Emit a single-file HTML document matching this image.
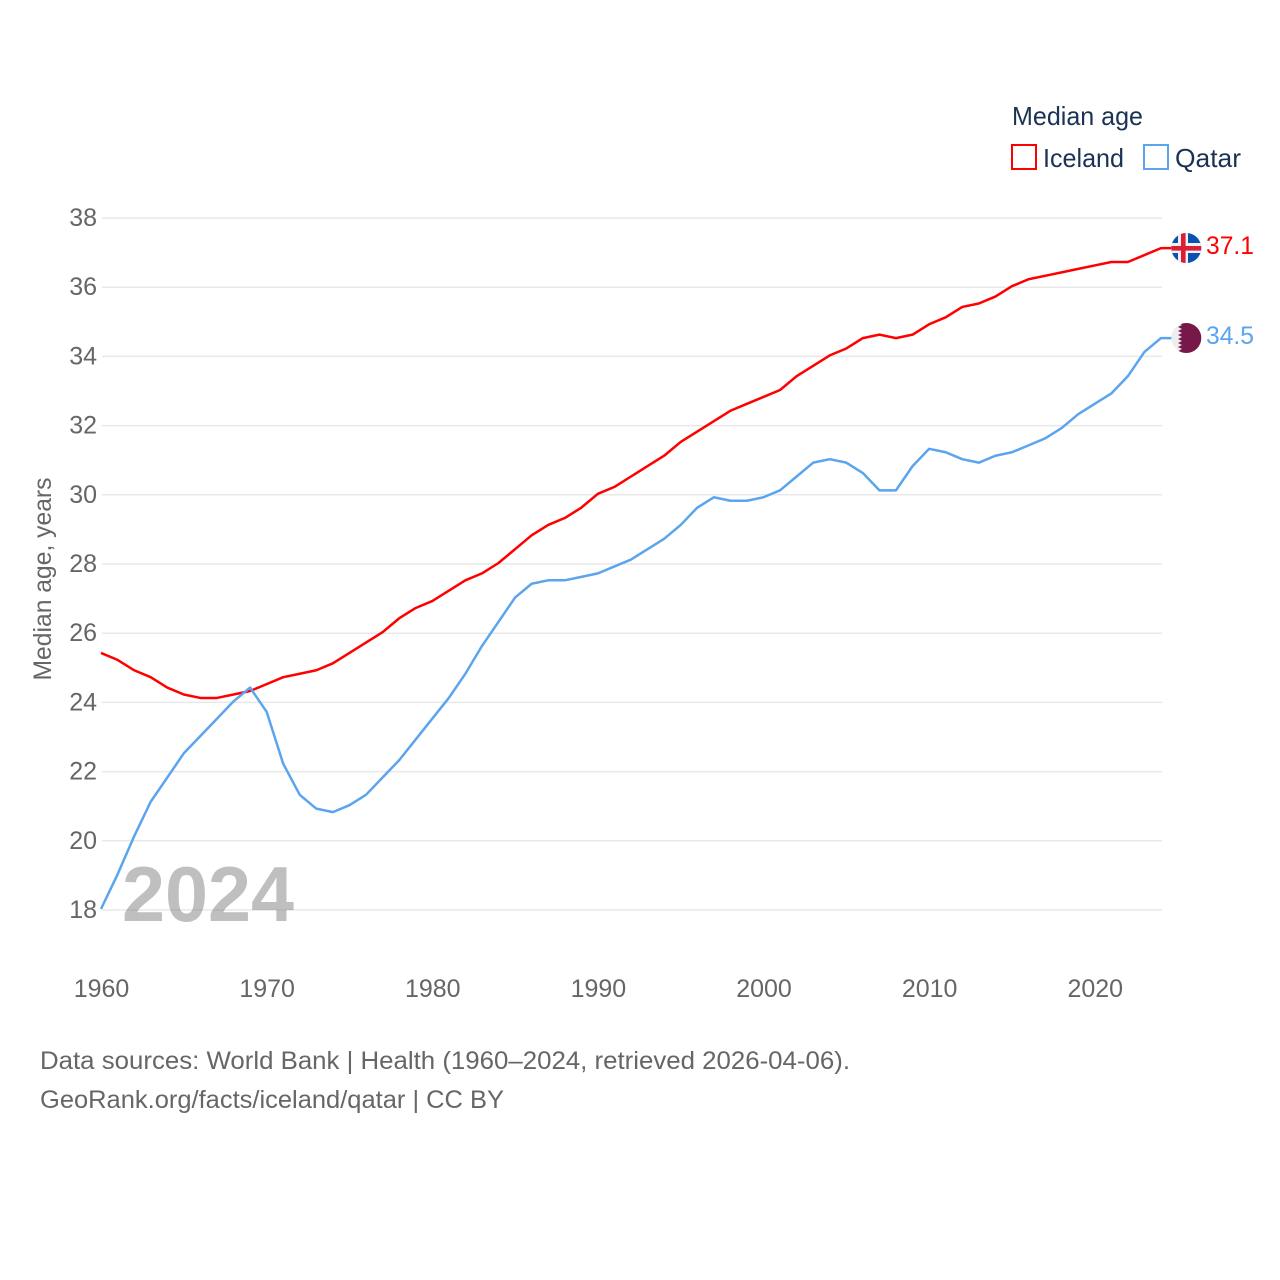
<!DOCTYPE html>
<html lang="en">
<head>
<meta charset="utf-8">
<title>Median age: Iceland and Qatar</title>
<style>
html,body{margin:0;padding:0;background:#fff;width:1280px;height:1280px;overflow:hidden}
svg{display:block;font-family:"Liberation Sans",sans-serif}
</style>
</head>
<body>
<svg id="chart" xmlns="http://www.w3.org/2000/svg" width="1280" height="1280" viewBox="0 0 1280 1280">
  <rect x="0" y="0" width="1280" height="1280" fill="#fff"/>
  <g id="grid"></g>
  <g id="yticks"></g>
  <g id="xticks"></g>
  <text transform="translate(51,579) rotate(-90)" text-anchor="middle" font-size="25" fill="#666" textLength="203" lengthAdjust="spacingAndGlyphs">Median age, years</text>
  <text x="122" y="921" font-size="78" font-weight="700" fill="#808080" fill-opacity="0.5" textLength="172" lengthAdjust="spacingAndGlyphs">2024</text>
  <g id="series"></g>

  <g>
    <clipPath id="clip-is"><circle cx="1186.3" cy="248" r="15"/></clipPath>
    <g clip-path="url(#clip-is)">
      <rect x="1171" y="233" width="31" height="31" fill="#0b52b0"/>
      <rect x="1171" y="243" width="31" height="10" fill="#f1f1f1"/>
      <rect x="1178" y="233" width="10" height="31" fill="#f1f1f1"/>
      <rect x="1171" y="246" width="31" height="4.6" fill="#dc1e35"/>
      <rect x="1181" y="233" width="4.6" height="31" fill="#dc1e35"/>
    </g>
  </g>
  <g>
    <clipPath id="clip-qa"><circle cx="1186.3" cy="338" r="15"/></clipPath>
    <g clip-path="url(#clip-qa)">
      <rect x="1171" y="323" width="31" height="31" fill="#eeeeee"/>
      <polygon fill="#76184a" points="1202,323 1179,323 1182,325 1178,327 1182,329 1178,331 1182,333 1178,335 1182,337 1178,339 1182,341 1178,343 1182,345 1178,347 1182,349 1178,351 1179,353 1202,353"/>
    </g>
  </g>
  <text x="1206" y="254" font-size="25" fill="#ff0000" textLength="48" lengthAdjust="spacingAndGlyphs">37.1</text>
  <text x="1206" y="344" font-size="25" fill="#5ba4ee" textLength="48" lengthAdjust="spacingAndGlyphs">34.5</text>

  <g>
    <text x="1012" y="125" font-size="26" fill="#1b3254" textLength="131" lengthAdjust="spacingAndGlyphs">Median age</text>
    <g>
      <rect x="1012" y="145" width="24" height="24" fill="#fff" stroke="#ff0000" stroke-width="2"/>
      <text x="1043" y="167" font-size="26" fill="#1b3254" textLength="81" lengthAdjust="spacingAndGlyphs">Iceland</text>
    </g>
    <g>
      <rect x="1144" y="145" width="24" height="24" fill="#fff" stroke="#5ba4ee" stroke-width="2"/>
      <text x="1175" y="167" font-size="26" fill="#1b3254" textLength="66" lengthAdjust="spacingAndGlyphs">Qatar</text>
    </g>
  </g>

  <text x="40" y="1069" font-size="25" fill="#666" textLength="810" lengthAdjust="spacingAndGlyphs">Data sources: World Bank | Health (1960–2024, retrieved 2026-04-06).</text>
  <text x="40" y="1108" font-size="25" fill="#666" textLength="464" lengthAdjust="spacingAndGlyphs">GeoRank.org/facts/iceland/qatar | CC BY</text>
</svg>
<script>
var years = [1960,1961,1962,1963,1964,1965,1966,1967,1968,1969,1970,1971,1972,1973,1974,1975,1976,1977,1978,1979,1980,1981,1982,1983,1984,1985,1986,1987,1988,1989,1990,1991,1992,1993,1994,1995,1996,1997,1998,1999,2000,2001,2002,2003,2004,2005,2006,2007,2008,2009,2010,2011,2012,2013,2014,2015,2016,2017,2018,2019,2020,2021,2022,2023,2024];
var iceland = [25.4,25.2,24.9,24.7,24.4,24.2,24.1,24.1,24.2,24.3,24.5,24.7,24.8,24.9,25.1,25.4,25.7,26.0,26.4,26.7,26.9,27.2,27.5,27.7,28.0,28.4,28.8,29.1,29.3,29.6,30.0,30.2,30.5,30.8,31.1,31.5,31.8,32.1,32.4,32.6,32.8,33.0,33.4,33.7,34.0,34.2,34.5,34.6,34.5,34.6,34.9,35.1,35.4,35.5,35.7,36.0,36.2,36.3,36.4,36.5,36.6,36.7,36.7,36.9,37.1];
var qatar = [18.0,19.0,20.1,21.1,21.8,22.5,23.0,23.5,24.0,24.4,23.7,22.2,21.3,20.9,20.8,21.0,21.3,21.8,22.3,22.9,23.5,24.1,24.8,25.6,26.3,27.0,27.4,27.5,27.5,27.6,27.7,27.9,28.1,28.4,28.7,29.1,29.6,29.9,29.8,29.8,29.9,30.1,30.5,30.9,31.0,30.9,30.6,30.1,30.1,30.8,31.3,31.2,31.0,30.9,31.1,31.2,31.4,31.6,31.9,32.3,32.6,32.9,33.4,34.1,34.5];
var yTickLabels = [18,20,22,24,26,28,30,32,34,36,38];
var xTickLabels = [1960,1970,1980,1990,2000,2010,2020];

var NS = 'http://www.w3.org/2000/svg';
function xScale(year) { return 101 + (year - 1960) * (1060 / 64); }
function yScale(age) { return 909 - (age - 18) * (692 / 20); }
function gridY(age) { return 910 - (age - 18) * (692 / 20); }

var gridGroup = document.getElementById('grid');
var yGroup = document.getElementById('yticks');
var xGroup = document.getElementById('xticks');
var seriesGroup = document.getElementById('series');

yTickLabels.forEach(function (tick) {
  var line = document.createElementNS(NS, 'line');
  
  
  line.setAttribute('x1', 102);
  line.setAttribute('x2', 1162);
  line.setAttribute('y1', gridY(tick));
  line.setAttribute('y2', gridY(tick));
  line.setAttribute('stroke', '#e8e8e8');
  line.setAttribute('stroke-width', 1.5);
  gridGroup.appendChild(line);

  var label = document.createElementNS(NS, 'text');
  
  
  label.setAttribute('x', 97);
  label.setAttribute('y', gridY(tick) + 8);
  label.setAttribute('text-anchor', 'end');
  label.setAttribute('font-size', 25);
  label.setAttribute('fill', '#666');
  label.textContent = tick;
  yGroup.appendChild(label);
});

xTickLabels.forEach(function (tick) {
  var label = document.createElementNS(NS, 'text');
  
  
  label.setAttribute('x', xScale(tick) + 0.5);
  label.setAttribute('y', 997);
  label.setAttribute('text-anchor', 'middle');
  label.setAttribute('font-size', 25);
  label.setAttribute('fill', '#666');
  label.textContent = tick;
  xGroup.appendChild(label);
});

function drawSeries(name, values, color) {
  var points = values.map(function (v, i) {
    return xScale(years[i]).toFixed(2) + ',' + yScale(v).toFixed(2);
  });
  var last = values[values.length - 1];
  points.push('1172,' + yScale(last).toFixed(2));
  var path = document.createElementNS(NS, 'polyline');
  
  
  path.setAttribute('points', points.join(' '));
  path.setAttribute('fill', 'none');
  path.setAttribute('stroke', color);
  path.setAttribute('stroke-width', 2.5);
  path.setAttribute('stroke-linejoin', 'round');
  seriesGroup.appendChild(path);
}
drawSeries('iceland-line', iceland, '#ff0000');
drawSeries('qatar-line', qatar, '#5ba4ee');
</script>
</body>
</html>
